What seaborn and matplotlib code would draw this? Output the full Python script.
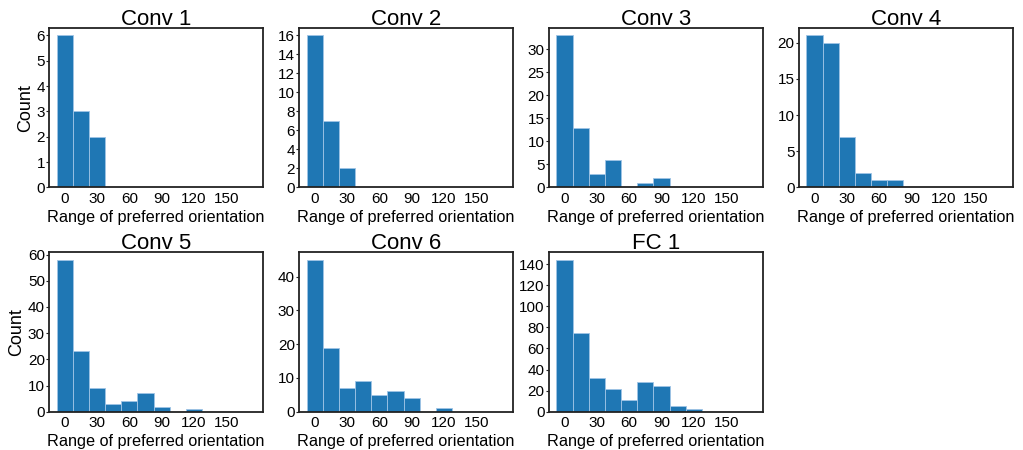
import numpy as np
import pandas as pd
import matplotlib
matplotlib.use("Agg")
import matplotlib.pyplot as plt
from matplotlib.ticker import MaxNLocator
import seaborn as sns

# Orientation-range bins (degrees): centres 0, 15, ..., 165, width 15
bin_centers = [0, 15, 30, 45, 60, 75, 90, 105, 120, 135, 150, 165]
bin_edges = [c - 7.5 for c in bin_centers] + [172.5]

layer_names = ["Conv 1", "Conv 2", "Conv 3", "Conv 4", "Conv 5", "Conv 6", "FC 1"]

# Unit counts per bin for each layer
conv1 = [6, 3, 2, 0, 0, 0, 0, 0, 0, 0, 0, 0]
conv2 = [16, 7, 2, 0, 0, 0, 0, 0, 0, 0, 0, 0]
conv3 = [33, 13, 3, 6, 0, 1, 2, 0, 0, 0, 0, 0]
conv4 = [21, 20, 7, 2, 1, 1, 0, 0, 0, 0, 0, 0]
conv5 = [58, 23, 9, 3, 4, 7, 2, 0, 1, 0, 0, 0]
conv6 = [45, 19, 7, 9, 5, 6, 4, 0, 1, 0, 0, 0]
fc1 = [144, 75, 32, 22, 11, 28, 24, 5, 3, 0, 0, 0]

layer_counts = [conv1, conv2, conv3, conv4, conv5, conv6, fc1]

x_ticks = [0, 30, 60, 90, 120, 150]

sns.set_style("white")
plt.rcParams["font.family"] = ["Liberation Sans", "DejaVu Sans"]
plt.rcParams.update({"text.color": "black", "axes.labelcolor": "black",
                     "xtick.color": "black", "ytick.color": "black"})

fig, axes = plt.subplots(2, 4, figsize=(10.23, 4.5), dpi=100)
fig.subplots_adjust(left=0.048, right=0.990, top=0.938, bottom=0.085,
                    wspace=0.168, hspace=0.406)

for i, ax in enumerate(axes.flat):
    if i >= len(layer_names):
        ax.axis("off")
        continue
    df = pd.DataFrame({"orientation": bin_centers, "count": layer_counts[i]})
    sns.histplot(data=df, x="orientation", weights="count", bins=bin_edges,
                 color="#1f77b4", alpha=1.0, edgecolor="#9fc4e6",
                 linewidth=0.6, ax=ax)
    ax.set_xlim(-14.5, 184)
    ax.set_xticks(x_ticks)
    ax.yaxis.set_major_locator(MaxNLocator(nbins=9, steps=[1, 2, 5, 10]))
    ax.set_title(layer_names[i], fontsize=16, pad=2)
    ax.set_xlabel("Range of preferred orientation", fontsize=11.7, labelpad=3)
    ax.set_ylabel("Count" if i % 4 == 0 else "", fontsize=13, labelpad=2)
    ax.tick_params(axis="both", labelsize=11, length=2, pad=1,
                   color="#222222", left=True, bottom=False)
    for sp in ax.spines.values():
        sp.set_visible(True)
        sp.set_color("#222222")
        sp.set_linewidth(1.3)

fig.savefig("out.png", dpi=100)
